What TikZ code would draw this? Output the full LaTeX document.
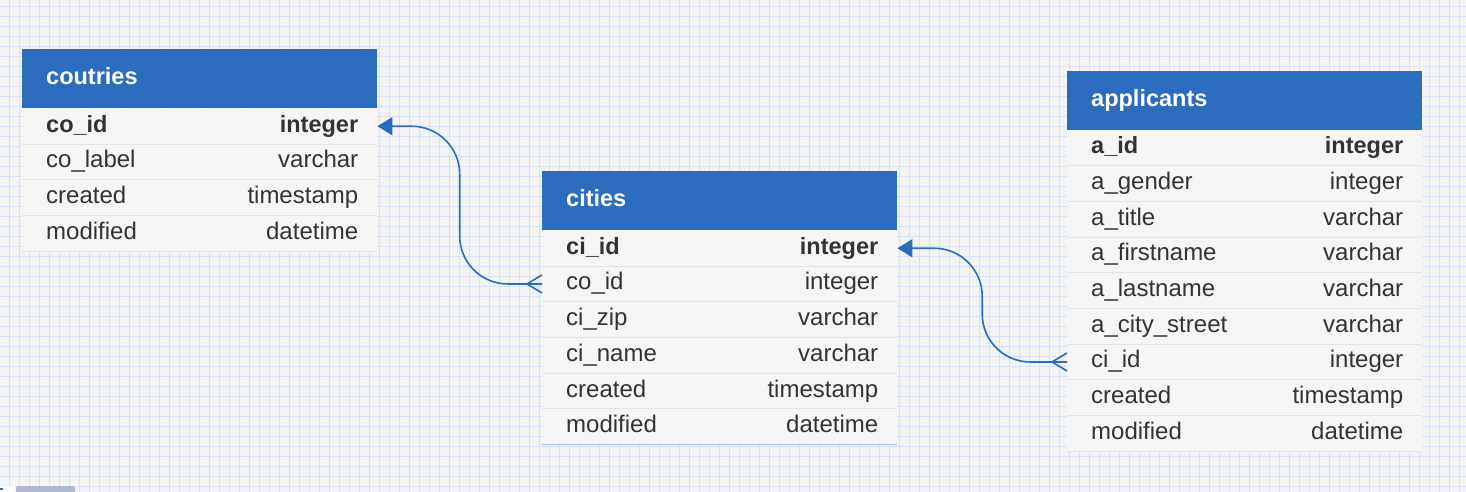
\documentclass[tikz,border=0pt]{standalone}
\usepackage{fontspec}
\setmainfont{Liberation Sans}
\usetikzlibrary{positioning, arrows.meta, calc}
\definecolor{headblue}{HTML}{2B6CBF}
\definecolor{linkblue}{HTML}{2A6DBD}
\definecolor{rowgray}{HTML}{F6F6F6}
\definecolor{linegray}{HTML}{E4E4E4}
\definecolor{textgray}{HTML}{333333}
\definecolor{paper}{HTML}{F4F4F5}
\definecolor{gridblue}{HTML}{D6E2F5}
\definecolor{tabgray}{HTML}{ADBCCC}
\tikzset{
    head/.style={fill=headblue, text=white, font=\fontsize{23.5}{27}\selectfont\bfseries, text width=317pt, inner xsep=19pt, inner ysep=0pt, minimum height=59pt, text height=17pt, text depth=5pt, anchor=north west, execute at begin node=\hspace*{5pt}},
    field/.style={fill=rowgray, text=textgray, font=\fontsize{24}{27}\selectfont, text width=317pt, inner xsep=19pt, inner ysep=0pt, minimum height=35.3pt, text height=17pt, text depth=5pt, execute at begin node=\hspace*{5pt}},
    keyfield/.style={field, font=\fontsize{23.5}{27}\selectfont\bfseries},
    rowline/.style={draw=linegray, line width=1pt},
    link/.style={draw=linkblue, line width=1.6pt, rounded corners=48pt},
    arrow/.style={link, -{Triangle[length=15pt, width=18pt]}},
    crow/.style={draw=linkblue, line width=1.6pt}
}
\begin{document}
\begin{tikzpicture}[x=1pt, y=-1pt]
\useasboundingbox (0,0) rectangle (1466,492);
% paper with grid
\fill[paper] (0,0) rectangle (1466,492);
\begin{scope}
\clip (0,0) rectangle (1466,492);
\draw[gridblue, line width=0.8pt, shift={(9.5,6)}, step=10pt] (-20,500) grid (1470,-20);
\end{scope}

% coutries
\node[head] (co) at (22,49) {coutries};
\node[keyfield, below=0pt of co] (co1) {co\_id\hfill integer};
\node[field, below=0pt of co1] (co2) {co\_label\hfill varchar};
\node[field, below=0pt of co2] (co3) {created\hfill timestamp};
\node[field, below=0pt of co3] (co4) {modified\hfill datetime};

% cities
\node[head] (ci) at (542,171) {cities};
\node[keyfield, below=0pt of ci] (ci1) {ci\_id\hfill integer};
\node[field, below=0pt of ci1] (ci2) {co\_id\hfill integer};
\node[field, below=0pt of ci2] (ci3) {ci\_zip\hfill varchar};
\node[field, below=0pt of ci3] (ci4) {ci\_name\hfill varchar};
\node[field, below=0pt of ci4] (ci5) {created\hfill timestamp};
\node[field, below=0pt of ci5] (ci6) {modified\hfill datetime};

% applicants
\node[head] (ap) at (1067,70.5) {applicants};
\node[keyfield, below=0pt of ap] (ap1) {a\_id\hfill integer};
\node[field, below=0pt of ap1] (ap2) {a\_gender\hfill integer};
\node[field, below=0pt of ap2] (ap3) {a\_title\hfill varchar};
\node[field, below=0pt of ap3] (ap4) {a\_firstname\hfill varchar};
\node[field, below=0pt of ap4] (ap5) {a\_lastname\hfill varchar};
\node[field, below=0pt of ap5] (ap6) {a\_city\_street\hfill varchar};
\node[field, below=0pt of ap6] (ap7) {ci\_id\hfill integer};
\node[field, below=0pt of ap7] (ap8) {created\hfill timestamp};
\node[field, below=0pt of ap8] (ap9) {modified\hfill datetime};

\foreach \r in {co1,co2,co3,co4,ci1,ci2,ci3,ci4,ci5,ap1,ap2,ap3,ap4,ap5,ap6,ap7,ap8,ap9}
    \draw[rowline] (\r.south west) -- (\r.south east);
\draw[draw=headblue!40, line width=1pt] (ci6.south west) -- (ci6.south east);

% relations
\coordinate (m1) at ($(co1.east)!.5!(ci2.west)$);
\coordinate (m2) at ($(ci1.east)!.5!(ap7.west)$);
\draw[arrow] (ci2.west) -- (ci2.west -| m1) -- (co1.east -| m1) -- (co1.east);
\draw[crow] ([yshift=-9pt]ci2.west) -- ([xshift=-15pt]ci2.west) -- ([yshift=9pt]ci2.west);
\draw[arrow] (ap7.west) -- (ap7.west -| m2) -- (ci1.east -| m2) -- (ci1.east);
\draw[crow] ([yshift=-9pt]ap7.west) -- ([xshift=-15pt]ap7.west) -- ([yshift=9pt]ap7.west);

% corner tab
\fill[white] (0,486) rectangle (15,492);
\fill[headblue] (0,488) rectangle (3,490);
\fill[tabgray, rounded corners=2pt] (16,486) rectangle (75,496);
\end{tikzpicture}
\end{document}
